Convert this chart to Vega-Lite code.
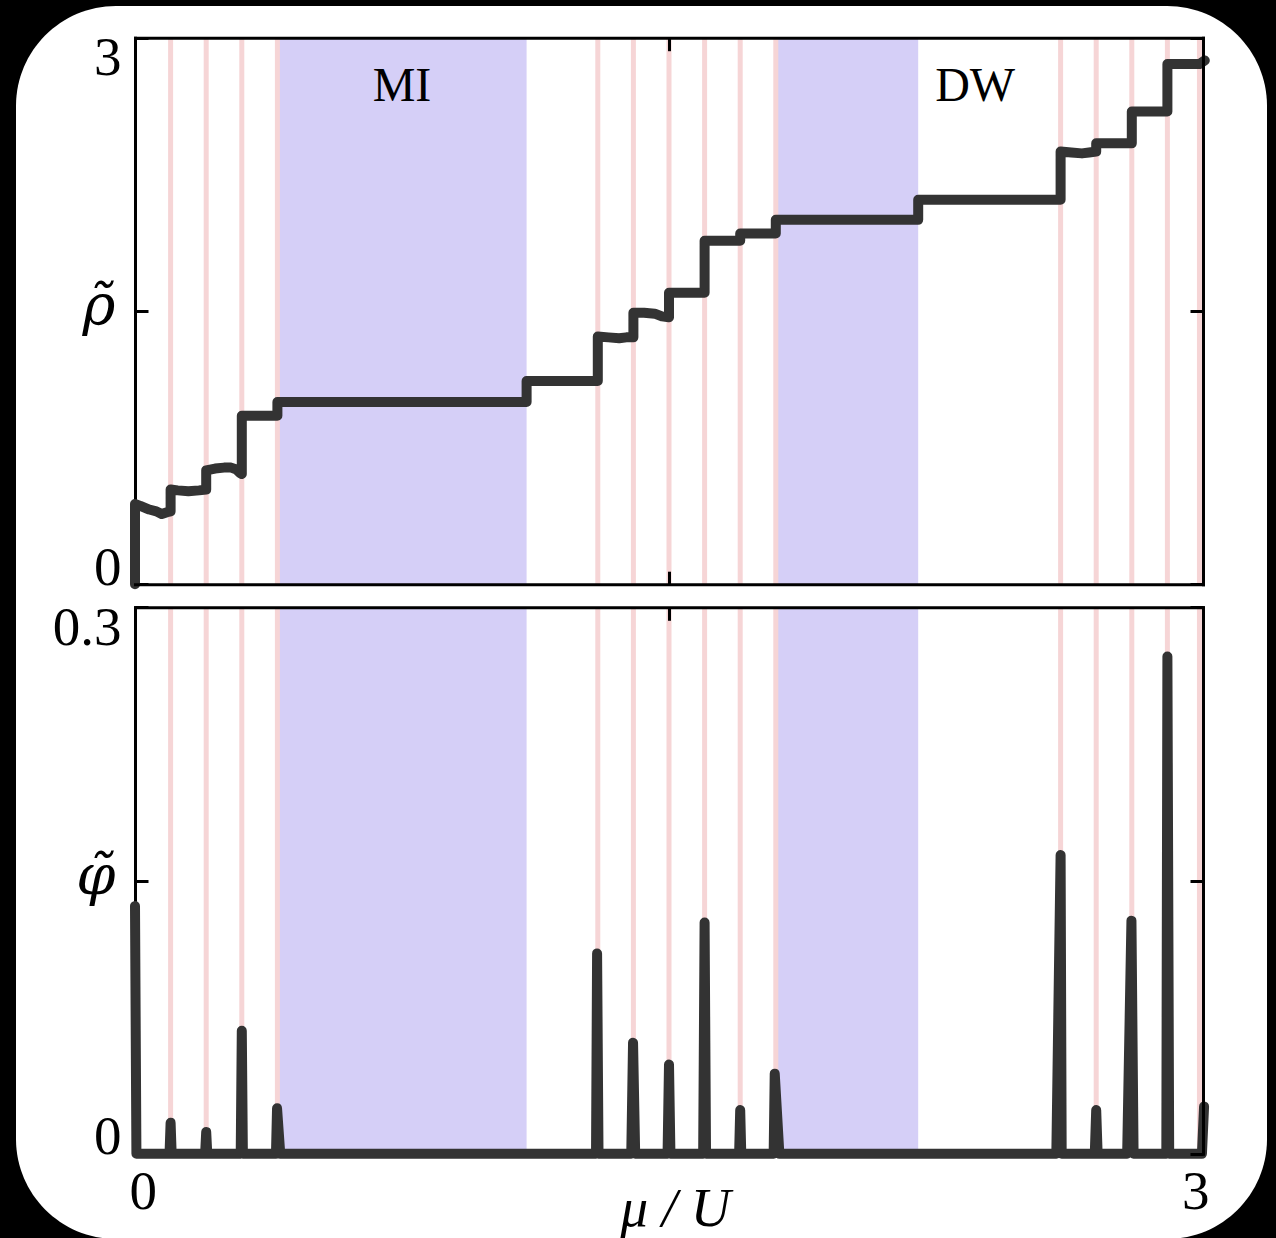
{
  "$schema": "https://vega.github.io/schema/vega-lite/v6.json",
  "width": 1251,
  "height": 1233,
  "autosize": {"type": "none"},
  "padding": {"left": 16, "top": 6, "right": 9, "bottom": 0},
  "background": "black",
  "config": {
    "view": {"fill": "white", "stroke": null, "cornerRadius": 100},
    "axis": {
      "grid": false,
      "domainColor": "black",
      "domainWidth": 3,
      "domainCap": "square",
      "tickColor": "black",
      "tickWidth": 3,
      "tickSize": -13,
      "labelFont": "Liberation Serif",
      "labelFontSize": 55,
      "labelColor": "black",
      "titleFont": "Liberation Serif",
      "titleFontSize": 55,
      "titleColor": "black",
      "titleFontWeight": "normal"
    }
  },
  "datasets": {
    "regions": [{"x0": 0.4, "x1": 1.1}, {"x0": 1.8, "x1": 2.2}],
    "pinks": [
      {"x": 0.1}, {"x": 0.2}, {"x": 0.3}, {"x": 0.4},
      {"x": 1.3}, {"x": 1.4}, {"x": 1.5}, {"x": 1.6}, {"x": 1.7}, {"x": 1.8},
      {"x": 2.6}, {"x": 2.7}, {"x": 2.8}, {"x": 2.9}, {"x": 2.99}
    ],
    "rho": [
      {"x": 0, "y": 0}, {"x": 0, "y": 0.44}, {"x": 0.015, "y": 0.43}, {"x": 0.04, "y": 0.41}, {"x": 0.06, "y": 0.4}, {"x": 0.075, "y": 0.385}, {"x": 0.09, "y": 0.395}, {"x": 0.1, "y": 0.4},
      {"x": 0.1, "y": 0.52}, {"x": 0.12, "y": 0.515}, {"x": 0.15, "y": 0.51}, {"x": 0.18, "y": 0.515}, {"x": 0.2, "y": 0.52},
      {"x": 0.2, "y": 0.625}, {"x": 0.225, "y": 0.635}, {"x": 0.25, "y": 0.64}, {"x": 0.27, "y": 0.64}, {"x": 0.285, "y": 0.63}, {"x": 0.295, "y": 0.61}, {"x": 0.3, "y": 0.605},
      {"x": 0.3, "y": 0.925}, {"x": 0.4, "y": 0.925},
      {"x": 0.4, "y": 1.0}, {"x": 1.1, "y": 1.0},
      {"x": 1.1, "y": 1.115}, {"x": 1.3, "y": 1.115},
      {"x": 1.3, "y": 1.36}, {"x": 1.33, "y": 1.355}, {"x": 1.36, "y": 1.35}, {"x": 1.38, "y": 1.355}, {"x": 1.4, "y": 1.355},
      {"x": 1.4, "y": 1.49}, {"x": 1.43, "y": 1.49}, {"x": 1.46, "y": 1.485}, {"x": 1.48, "y": 1.47}, {"x": 1.5, "y": 1.465},
      {"x": 1.5, "y": 1.6}, {"x": 1.6, "y": 1.6},
      {"x": 1.6, "y": 1.885}, {"x": 1.7, "y": 1.885},
      {"x": 1.7, "y": 1.925}, {"x": 1.8, "y": 1.925},
      {"x": 1.8, "y": 2.0}, {"x": 2.2, "y": 2.0},
      {"x": 2.2, "y": 2.11}, {"x": 2.6, "y": 2.11},
      {"x": 2.6, "y": 2.375}, {"x": 2.63, "y": 2.37}, {"x": 2.66, "y": 2.365}, {"x": 2.68, "y": 2.37}, {"x": 2.7, "y": 2.375},
      {"x": 2.7, "y": 2.42}, {"x": 2.8, "y": 2.42},
      {"x": 2.8, "y": 2.595}, {"x": 2.9, "y": 2.595},
      {"x": 2.9, "y": 2.855}, {"x": 2.99, "y": 2.855}, {"x": 3.005, "y": 2.875}
    ],
    "phi": [
      {"x": 0, "y": 0.136}, {"x": 0.004, "y": 0},
      {"x": 0.097, "y": 0}, {"x": 0.1, "y": 0.017}, {"x": 0.103, "y": 0},
      {"x": 0.197, "y": 0}, {"x": 0.2, "y": 0.012}, {"x": 0.203, "y": 0},
      {"x": 0.297, "y": 0}, {"x": 0.3, "y": 0.0675}, {"x": 0.303, "y": 0},
      {"x": 0.396, "y": 0}, {"x": 0.399, "y": 0.025}, {"x": 0.408, "y": 0},
      {"x": 1.295, "y": 0}, {"x": 1.298, "y": 0.11}, {"x": 1.302, "y": 0},
      {"x": 1.394, "y": 0}, {"x": 1.399, "y": 0.061}, {"x": 1.405, "y": 0},
      {"x": 1.496, "y": 0}, {"x": 1.5, "y": 0.049}, {"x": 1.504, "y": 0},
      {"x": 1.596, "y": 0}, {"x": 1.6, "y": 0.127}, {"x": 1.604, "y": 0},
      {"x": 1.697, "y": 0}, {"x": 1.7, "y": 0.024}, {"x": 1.703, "y": 0},
      {"x": 1.794, "y": 0}, {"x": 1.797, "y": 0.044}, {"x": 1.81, "y": 0},
      {"x": 2.588, "y": 0}, {"x": 2.6, "y": 0.164}, {"x": 2.603, "y": 0},
      {"x": 2.696, "y": 0}, {"x": 2.7, "y": 0.024}, {"x": 2.704, "y": 0},
      {"x": 2.787, "y": 0}, {"x": 2.799, "y": 0.128}, {"x": 2.805, "y": 0},
      {"x": 2.897, "y": 0}, {"x": 2.9, "y": 0.273}, {"x": 2.905, "y": 0},
      {"x": 2.997, "y": 0}, {"x": 3.003, "y": 0.026}
    ],
    "labels": [
      {"x": 0.75, "y": 2.73, "label": "MI"},
      {"x": 2.36, "y": 2.73, "label": "DW"}
    ]
  },
  "layer": [
    {
      "data": {"name": "regions"},
      "mark": {"type": "rect", "color": "#d5cff7"},
      "encoding": {
        "x": {"field": "x0", "type": "quantitative", "scale": {"domain": [0, 3], "range": [119, 1187]},
              "axis": {"orient": "bottom", "offset": -654.8, "values": [1.5], "labels": false, "title": null, "zindex": 1}},
        "x2": {"field": "x1"},
        "y": {"datum": 0, "type": "quantitative", "scale": {"domain": [0, 3], "range": [578.2, 31.7]},
              "axis": {"orient": "left", "offset": -119, "values": [0, 1.5, 3], "title": null, "zindex": 0,
                       "labelExpr": "datum.value == 1.5 ? 'ρ̃' : datum.value == 3 ? '3' : '0'",
                       "labelFlush": true, "labelFlushOffset": 6,
                       "labelPadding": {"condition": {"test": "datum.value == 1.5", "value": 33}, "value": 27},
                       "labelFont": {"condition": {"test": "datum.value == 1.5", "value": "DejaVu Serif"}, "value": "Liberation Serif"},
                       "labelFontSize": {"condition": {"test": "datum.value == 1.5", "value": 56}, "value": 55},
                       "labelFontStyle": {"condition": {"test": "datum.value == 1.5", "value": "italic"}, "value": "normal"},
                       "labelOffset": {"condition": [{"test": "datum.value == 0", "value": 6}, {"test": "datum.value == 1.5", "value": -4}], "value": 0}}},
        "y2": {"datum": 3}
      }
    },
    {
      "data": {"name": "pinks"},
      "mark": {"type": "rule", "color": "#f6d5d6", "strokeWidth": 5},
      "encoding": {
        "x": {"field": "x", "type": "quantitative", "scale": {"domain": [0, 3], "range": [119, 1187]},
              "axis": {"orient": "top", "offset": -31.7, "values": [1.5], "labels": false, "title": null, "zindex": 1}},
        "y": {"datum": 0, "type": "quantitative", "scale": {"domain": [0, 3], "range": [578.2, 31.7]},
              "axis": {"orient": "right", "offset": -64, "values": [0, 1.5, 3], "labels": false, "title": null, "zindex": 1}},
        "y2": {"datum": 3}
      }
    },
    {
      "data": {"name": "rho"},
      "mark": {"type": "line", "color": "#333333", "strokeWidth": 10, "strokeCap": "round", "strokeJoin": "round"},
      "encoding": {
        "x": {"field": "x", "type": "quantitative", "scale": {"domain": [0, 3], "range": [119, 1187]}, "axis": null},
        "y": {"field": "y", "type": "quantitative", "scale": {"domain": [0, 3], "range": [578.2, 31.7]}, "axis": null}
      }
    },
    {
      "data": {"name": "labels"},
      "mark": {"type": "text", "font": "Liberation Serif", "fontSize": 48, "color": "black", "align": "center", "baseline": "middle"},
      "encoding": {
        "x": {"field": "x", "type": "quantitative", "scale": {"domain": [0, 3], "range": [119, 1187]}, "axis": null},
        "y": {"field": "y", "type": "quantitative", "scale": {"domain": [0, 3], "range": [578.2, 31.7]}, "axis": null},
        "text": {"field": "label"}
      }
    },
    {
      "data": {"name": "regions"},
      "mark": {"type": "rect", "color": "#d5cff7"},
      "encoding": {
        "x": {"field": "x0", "type": "quantitative", "scale": {"domain": [0, 3], "range": [119, 1187]},
              "axis": {"orient": "bottom", "offset": -85.2, "values": [0, 1.5, 3], "zindex": 0,
                       "labelExpr": "datum.value == 1.5 ? '' : datum.value == 3 ? '3' : '0'",
                       "labelFlush": true, "labelFlushOffset": 6, "labelPadding": 25,
                       "title": "μ / U", "titleFontStyle": "italic", "titleBaseline": "alphabetic", "titleAlign": "center", "titleX": 659, "titleY": 72}},
        "x2": {"field": "x1"},
        "y": {"datum": 0, "type": "quantitative", "scale": {"domain": [0, 0.3], "range": [1147.8, 601.3]},
              "axis": {"orient": "left", "offset": -119, "values": [0, 0.15, 0.3], "title": null, "zindex": 0,
                       "labelExpr": "datum.value == 0.15 ? 'φ̃' : datum.value == 0.3 ? '0.3' : '0'",
                       "labelFlush": true, "labelFlushOffset": 6,
                       "labelPadding": {"condition": {"test": "datum.value == 0.15", "value": 33}, "value": 27},
                       "labelFont": {"condition": {"test": "datum.value == 0.15", "value": "DejaVu Serif"}, "value": "Liberation Serif"},
                       "labelFontSize": {"condition": {"test": "datum.value == 0.15", "value": 56}, "value": 55},
                       "labelFontStyle": {"condition": {"test": "datum.value == 0.15", "value": "italic"}, "value": "normal"},
                       "labelOffset": {"condition": [{"test": "datum.value == 0", "value": 6}, {"test": "datum.value == 0.15", "value": -4}], "value": 0}}},
        "y2": {"datum": 0.3}
      }
    },
    {
      "data": {"name": "pinks"},
      "mark": {"type": "rule", "color": "#f6d5d6", "strokeWidth": 5},
      "encoding": {
        "x": {"field": "x", "type": "quantitative", "scale": {"domain": [0, 3], "range": [119, 1187]},
              "axis": {"orient": "top", "offset": -601.3, "values": [1.5], "labels": false, "title": null, "zindex": 1}},
        "y": {"datum": 0, "type": "quantitative", "scale": {"domain": [0, 0.3], "range": [1147.8, 601.3]},
              "axis": {"orient": "right", "offset": -64, "values": [0, 0.15, 0.3], "labels": false, "title": null, "zindex": 1}},
        "y2": {"datum": 0.3}
      }
    },
    {
      "data": {"name": "phi"},
      "mark": {"type": "line", "color": "#333333", "strokeWidth": 10, "strokeCap": "round", "strokeJoin": "round"},
      "encoding": {
        "x": {"field": "x", "type": "quantitative", "scale": {"domain": [0, 3], "range": [119, 1187]}, "axis": null},
        "y": {"field": "y", "type": "quantitative", "scale": {"domain": [0, 0.3], "range": [1147.8, 601.3]}, "axis": null}
      }
    }
  ],
  "resolve": {
    "scale": {"x": "independent", "y": "independent"},
    "axis": {"x": "independent", "y": "independent"}
  }
}
